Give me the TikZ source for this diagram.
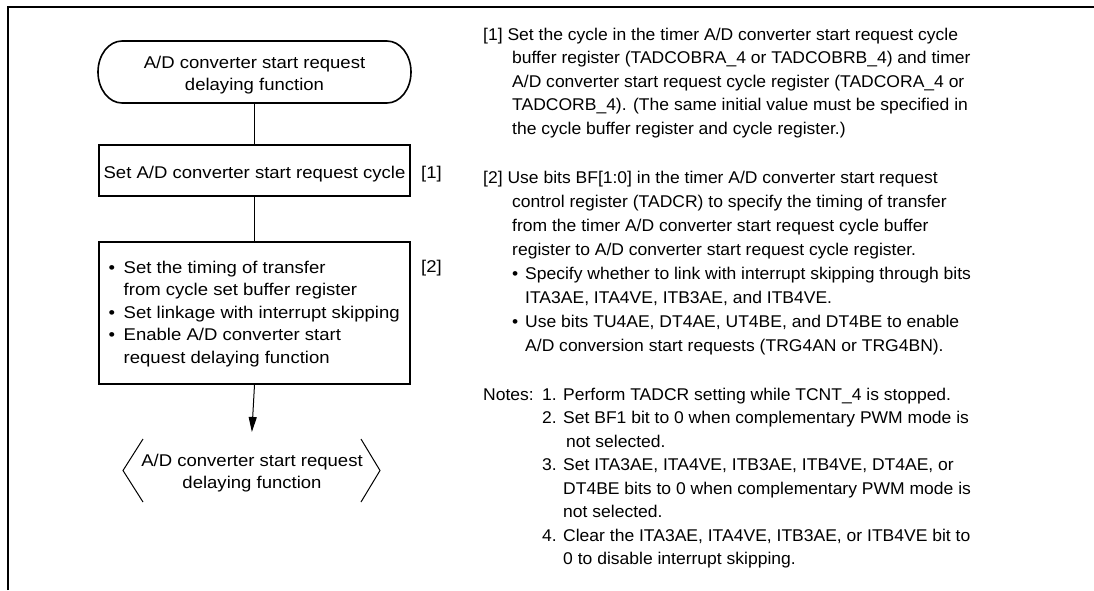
\documentclass[tikz,border=0pt]{standalone}
\usepackage{fontspec}
\setmainfont{Liberation Sans}
\newfontfamily\lfont[FakeStretch=1.09]{Liberation Sans}
\newfontfamily\rfont[FakeStretch=1.03]{Liberation Sans}
\usetikzlibrary{arrows.meta}
\begin{document}
\begin{tikzpicture}[x=1pt,y=-1pt,
  shapebox/.style={draw, line width=1.6pt, minimum width=311pt, inner sep=0pt},
  ltext/.style={font=\lfont\fontsize{17}{20}\selectfont, inner sep=0pt, anchor=base},
  ltextw/.style={ltext, anchor=base west},
  rtext/.style={font=\rfont\fontsize{17}{20}\selectfont, inner sep=0pt, anchor=base west},
  conn/.style={line width=1pt},
  outline/.style={line width=1.6pt}]
\useasboundingbox (0,0) rectangle (1094,590);
% frame
\draw[line width=2.2pt] (8,590) -- (8,7.3) -- (1094,7.3);

% start terminal
\node[minimum width=313pt, minimum height=62pt, inner sep=0pt, outer sep=0pt] (start) at (254.5,72) {};
\draw[outline] ([xshift=24pt]start.north west) -- ([xshift=-24pt]start.north east)
  arc[start angle=-90, end angle=90, x radius=24, y radius=31]
  -- ([xshift=24pt]start.south west)
  arc[start angle=90, end angle=270, x radius=24, y radius=31] -- cycle;
\node[ltext] (starta) at (254.5,68) {A/D converter start request};
\node[ltext] (startb) at (254.5,90) {delaying function};

% box 1
\node[shapebox, minimum height=51pt] (set1) at (254.5,170.5) {};
\node[ltext] (set1t) at (254.5,178) {Set A/D converter start request cycle};
\node[ltextw] (lab1) at (421,178) {[1]};

% box 2
\node[shapebox, minimum height=142pt] (set2) at (254.5,313) {};
\node[ltextw] (b1) at (108.5,273) {\makebox[15pt][l]{\textbullet}Set the timing of transfer};
\node[ltextw] (b1b) at (123.5,295.5) {from cycle set buffer register};
\node[ltextw] (b2) at (108.5,318) {\makebox[15pt][l]{\textbullet}Set linkage with interrupt skipping};
\node[ltextw] (b3) at (108.5,340.5) {\makebox[15pt][l]{\textbullet}Enable A/D converter start};
\node[ltextw] (b3b) at (123.5,363) {request delaying function};
\node[ltextw] (lab2) at (421,272) {[2]};

% end
\node[minimum width=257pt, minimum height=63pt, inner sep=0pt, outer sep=0pt] (end) at (251.5,470.5) {};
\draw[conn] ([xshift=20pt]end.north west) -- (end.west) -- ([xshift=20pt]end.south west);
\draw[conn] ([xshift=-19pt]end.north east) -- (end.east) -- ([xshift=-19pt]end.south east);
\node[ltext] (enda) at (252,466.5) {A/D converter start request};
\node[ltext] (endb) at (252,488) {delaying function};

% connectors
\draw[conn] (start.south) -- (set1.north);
\draw[conn] (set1.south) -- (set2.north);
\draw[conn, -{Triangle[length=15pt,width=8pt]}, shorten >=7pt] (set2.south) -- (end.north);

% right text [1]
\node[rtext] (r1) at (483,40) {[1] Set the cycle in the timer A/D converter start request cycle};
\node[rtext] (r2) at (512,63.5) {buffer register (TADCOBRA\_4 or TADCOBRB\_4) and timer};
\node[rtext] (r3) at (512,87) {A/D converter start request cycle register (TADCORA\_4 or};
\node[rtext] (r4) at (512,110.5) {TADCORB\_4). (The same initial value must be specified in};
\node[rtext] (r5) at (512,134) {the cycle buffer register and cycle register.)};

% right text [2]
\node[rtext] (s1) at (483,183) {[2] Use bits BF[1:0] in the timer A/D converter start request};
\node[rtext] (s2) at (512,207) {control register (TADCR) to specify the timing of transfer};
\node[rtext] (s3) at (512,231) {from the timer A/D converter start request cycle buffer};
\node[rtext] (s4) at (512,255) {register to A/D converter start request cycle register.};
\node[rtext] (s5) at (512,279) {\makebox[13pt][l]{\textbullet}Specify whether to link with interrupt skipping through bits};
\node[rtext] (s6) at (525,303) {ITA3AE, ITA4VE, ITB3AE, and ITB4VE.};
\node[rtext] (s7) at (512,327) {\makebox[13pt][l]{\textbullet}Use bits TU4AE, DT4AE, UT4BE, and DT4BE to enable};
\node[rtext] (s8) at (525,351) {A/D conversion start requests (TRG4AN or TRG4BN).};

% notes
\node[rtext] (n0) at (483,400) {Notes:};
\node[rtext] (n1) at (542,400) {\makebox[21pt][l]{1.}Perform TADCR setting while TCNT\_4 is stopped.};
\node[rtext] (n2) at (542,423.5) {\makebox[21pt][l]{2.}Set BF1 bit to 0 when complementary PWM mode is};
\node[rtext] (n2b) at (566,447) {not selected.};
\node[rtext] (n3) at (542,470.5) {\makebox[21pt][l]{3.}Set ITA3AE, ITA4VE, ITB3AE, ITB4VE, DT4AE, or};
\node[rtext] (n3b) at (563,494) {DT4BE bits to 0 when complementary PWM mode is};
\node[rtext] (n3c) at (563,517.5) {not selected.};
\node[rtext] (n4) at (542,541) {\makebox[21pt][l]{4.}Clear the ITA3AE, ITA4VE, ITB3AE, or ITB4VE bit to};
\node[rtext] (n4b) at (563,564.5) {0 to disable interrupt skipping.};
\end{tikzpicture}
\end{document}
